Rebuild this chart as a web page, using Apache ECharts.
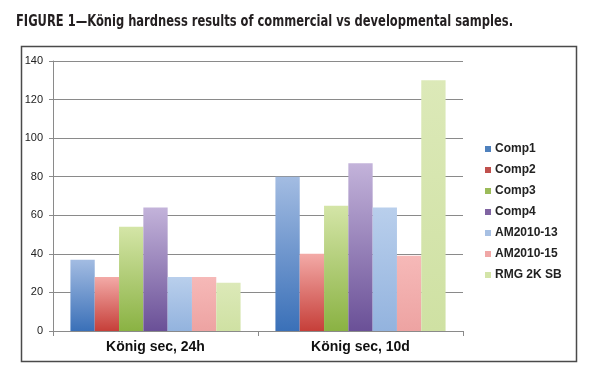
<!DOCTYPE html>
<html><head><meta charset="utf-8">
<script src="https://cdn.jsdelivr.net/npm/echarts@6/dist/echarts.min.js"></script>
<style>html,body{margin:0;padding:0;background:#fff;}#c{width:606px;height:382px;}</style>
</head><body><div id="c"></div>
<script>
const titleText = 'FIGURE 1\u2014K\u00f6nig hardness results of commercial vs developmental samples.';
const categories = ['König sec, 24h', 'König sec, 10d'];
const seriesNames = ['Comp1', 'Comp2', 'Comp3', 'Comp4', 'AM2010-13', 'AM2010-15', 'RMG 2K SB'];
const comp1 = [37, 80];
const comp2 = [28, 40];
const comp3 = [54, 65];
const comp4 = [64, 87];
const am201013 = [28, 64];
const am201015 = [28, 39];
const rmg2ksb = [25, 130];
const yTicks = [0, 20, 40, 60, 80, 100, 120, 140];

const values = [comp1, comp2, comp3, comp4, am201013, am201015, rmg2ksb];
const grads = [
  ['#a3bce2', '#3a70b8'],
  ['#f3aaa7', '#c63f39'],
  ['#d4e5a7', '#8ab243'],
  ['#c3b3da', '#6a5097'],
  ['#b9cfec', '#93b3de'],
  ['#f6b9b8', '#eda3a2'],
  ['#dce9b8', '#cfe1a3']
];
const legendColors = ['#4f81bd', '#c0504d', '#9bbb59', '#8064a2', '#a7c0e3', '#f0a7a6', '#d3e4a8'];

const series = seriesNames.map((n, i) => ({
  name: n, type: 'bar', data: values[i],
  barGap: '0%', barCategoryGap: '17%',
  itemStyle: { color: { type: 'linear', x: 0, y: 0, x2: 0, y2: 1,
    colorStops: [{ offset: 0, color: grads[i][0] }, { offset: 1, color: grads[i][1] }] } }
}));

const titleFont = 'bold 16px "DejaVu Sans Condensed", "DejaVu Sans", sans-serif';
const cv = document.createElement('canvas').getContext('2d');
cv.font = titleFont;
const tw = cv.measureText(titleText).width;
const sx = 497 / tw;

const chart = echarts.init(document.getElementById('c'), null, { renderer: 'canvas' });
chart.setOption({
  animation: false,
  backgroundColor: '#fff',
  color: legendColors,
  graphic: [{
    type: 'rect', left: 19, top: 44, z: -1,
    shape: { width: 555, height: 315 },
    style: { fill: 'none', stroke: '#4a4a4a', lineWidth: 1.5 }
  }, {
    type: 'text', x: 16, y: 14, scaleX: sx, scaleY: 1,
    style: { text: titleText, font: titleFont, fill: '#231f20', textVerticalAlign: 'top' }
  }],
  legend: {
    orient: 'vertical', left: 480, top: 137,
    itemWidth: 6, itemHeight: 6, itemGap: 7, icon: 'rect',
    data: seriesNames.map((n, i) => ({ name: n, itemStyle: { color: legendColors[i] } })),
    textStyle: { fontFamily: 'Arial, "Liberation Sans", sans-serif', fontWeight: 'bold', fontSize: 12, color: '#222', lineHeight: 14, padding: [0, 0, 0, -1] }
  },
  grid: { left: 53, right: 143, top: 61, bottom: 51 },
  xAxis: {
    type: 'category', data: categories,
    axisLine: { lineStyle: { color: '#8a8a8a', width: 1 } },
    axisTick: { show: true, alignWithLabel: false, length: 5, lineStyle: { color: '#8a8a8a' } },
    axisLabel: { fontFamily: 'Arial, "Liberation Sans", sans-serif', fontWeight: 'bold', fontSize: 14, color: '#111', margin: 9 }
  },
  yAxis: {
    type: 'value', min: yTicks[0], max: yTicks[yTicks.length - 1], interval: 20,
    axisLine: { show: true, lineStyle: { color: '#8a8a8a', width: 1 } },
    axisTick: { show: true, length: 4, lineStyle: { color: '#8a8a8a' } },
    splitLine: { lineStyle: { color: '#8a8a8a', width: 1 } },
    axisLabel: { fontFamily: 'Arial, "Liberation Sans", sans-serif', fontSize: 11, color: '#222', margin: 10 }
  },
  series: series
});
</script></body></html>
